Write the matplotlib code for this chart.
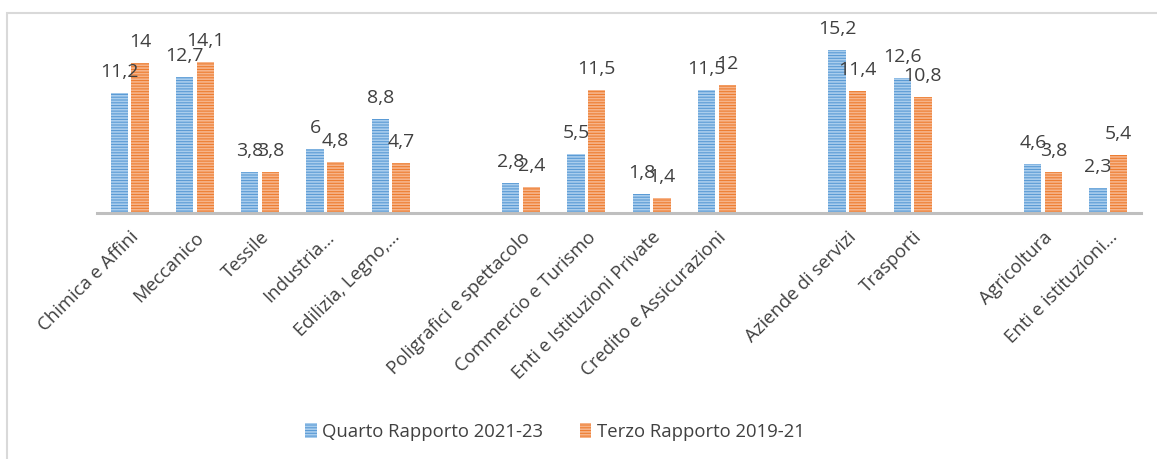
import numpy as np
import matplotlib
matplotlib.use("Agg")
import matplotlib.pyplot as plt
from matplotlib.patches import Rectangle, Patch

categories = ["Chimica e Affini", "Meccanico", "Tessile", "Industria…", "Edilizia, Legno,…", "",
              "Poligrafici e spettacolo", "Commercio e Turismo", "Enti e Istituzioni Private",
              "Credito e Assicurazioni", "", "Aziende di servizi", "Trasporti", "",
              "Agricoltura", "Enti e istituzioni…"]
quarto = [11.2, 12.7, 3.8, 6, 8.8, None, 2.8, 5.5, 1.8, 11.5, None, 15.2, 12.6, None, 4.6, 2.3]
terzo = [14, 14.1, 3.8, 4.8, 4.7, None, 2.4, 11.5, 1.4, 12, None, 11.4, 10.8, None, 3.8, 5.4]
series_names = ["Quarto Rapporto 2021-23", "Terzo Rapporto 2019-21"]

plt.rcParams['font.family'] = ['Open Sans', 'DejaVu Sans']
plt.rcParams['hatch.linewidth'] = 1.2

W, H = 1157, 459
fig = plt.figure(figsize=(W / 100, H / 100), dpi=100)
fig.patches.append(Rectangle((7 / W, -0.2), 1.5, 1.2 - 13 / H, transform=fig.transFigure,
                             fill=False, edgecolor='#D9D9D9', linewidth=1.5, zorder=0))

ax = fig.add_axes([97 / W, 1 - 213 / H, (1141 - 97) / W, (213 - 28) / H])
ax.set_xlim(-0.5, len(categories) - 0.5)
ax.set_ylim(0, 185 / 10.7)

blue, blue_h = '#5B9BD5', '#A9CDED'
orange, orange_h = '#ED7D31', '#F6B48A'
bw = 0.265
off = 0.158
x = np.arange(len(categories))
text_col = '#404040'

def fmt(v):
    s = f"{v:g}"
    return s.replace('.', ',')

for vals, dx, col, hcol in [(quarto, -off, blue, blue_h), (terzo, off, orange, orange_h)]:
    for xi, v in zip(x, vals):
        if v is None:
            continue
        ax.bar(xi + dx, v, width=bw, color=col, edgecolor=hcol, linewidth=0, hatch='------', zorder=2)
        ax.annotate(fmt(v), (xi + dx, v), xytext=(0, 11.5), textcoords='offset points',
                    ha='center', va='baseline', fontsize=14, color=text_col, zorder=3)

for s in ['top', 'right', 'left']:
    ax.spines[s].set_visible(False)
ax.spines['bottom'].set_color('#BFBFBF')
ax.spines['bottom'].set_linewidth(2.2)
ax.set_yticks([])
ax.set_xticks(x)
ax.set_xticklabels(categories, rotation=45, ha='right', rotation_mode='anchor',
                   fontsize=13.3, color=text_col)
ax.tick_params(axis='x', length=0, pad=11)

handles = [Patch(facecolor=blue, edgecolor=blue_h, linewidth=0, hatch='------'),
           Patch(facecolor=orange, edgecolor=orange_h, linewidth=0, hatch='------')]
fig.legend(handles, series_names, loc='center', bbox_to_anchor=(555 / W, 1 - 432 / H),
           ncol=2, frameon=False, fontsize=13.3, labelcolor=text_col,
           handlelength=0.6, handleheight=0.9, handletextpad=0.3, columnspacing=2.0)

fig.savefig('out.png', dpi=100)
